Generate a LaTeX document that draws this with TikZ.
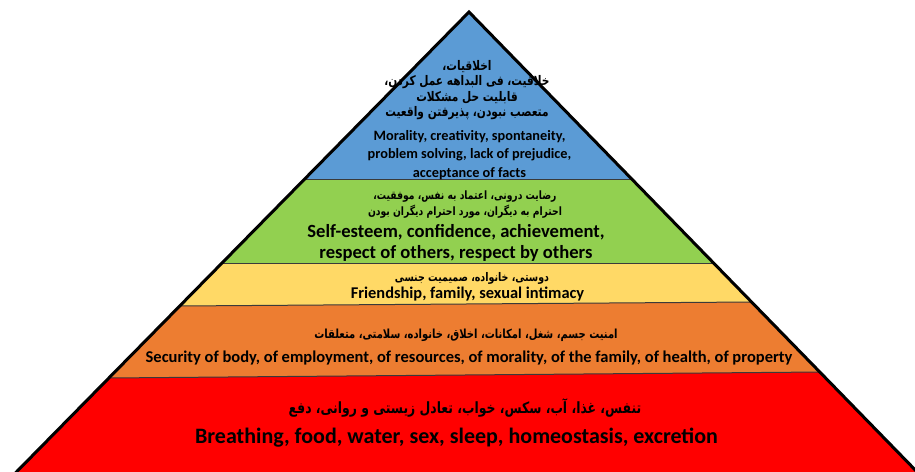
\documentclass[tikz,border=0pt]{standalone}
\usepackage{graphicx}
\usepackage{fontspec}
\setmainfont{Carlito}
\newfontfamily\arabicfont[Script=Arabic]{DejaVu Sans}
\TeXXeTstate=1
\newcommand\fatxt[1]{\scalebox{1}[1.25]{\beginR #1\endR}}
\definecolor{lblue}{HTML}{5B9BD5}
\definecolor{lgreen}{HTML}{92D050}
\definecolor{lyellow}{HTML}{FFD966}
\definecolor{lorange}{HTML}{ED7D31}
\definecolor{lred}{HTML}{FF0000}
\definecolor{divcol}{HTML}{3A3A3A}
\tikzset{
  divider/.style={draw=divcol, line width=1pt},
  outline/.style={draw=black, line width=3pt, line join=miter},
  en/.style={inner sep=0pt, align=center, text=black},
  fa/.style={inner sep=0pt, align=center, text=black},
}
\begin{document}
\begin{tikzpicture}[x=1pt,y=-1pt]
\useasboundingbox (0,0) rectangle (915,471);
\clip (0,0) rectangle (915,471);
\coordinate (apex) at (469,12);
\coordinate (l1) at (304.2,179.5);
\coordinate (r1) at (632.3,179.5);
\coordinate (l2) at (222.0,263);
\coordinate (r2) at (713.7,263);
\coordinate (l3) at (179.7,306);
\coordinate (r3) at (751.8,302);
\coordinate (l4) at (108.9,378);
\coordinate (r4) at (820.0,372);
\coordinate (bl) at (8.5,480);
\coordinate (br) at (925,480);
% bands
\fill[lblue] (apex) -- (l1) -- (r1) -- cycle;
\fill[lgreen] (l1) -- (l2) -- (r2) -- (r1) -- cycle;
\fill[lyellow] (l2) -- (l3) -- (r3) -- (r2) -- cycle;
\fill[lorange] (l3) -- (l4) -- (r4) -- (r3) -- cycle;
\fill[lred] (l4) -- (bl) -- (br) -- (r4) -- cycle;
% dividers
\draw[divider] (l1) -- (r1);
\draw[divider] (l2) -- (r2);
\draw[divider] (l3) -- (r3);
\draw[divider] (l4) -- (r4);
% outline
\draw[outline] (bl) -- (apex) -- (br);
% texts
\node[fa, font=\arabicfont\bfseries\fontsize{10.6}{15.3}\selectfont] (bluefa) at (467,90)
  {\fatxt{اخلاقیات،}\\ \fatxt{خلاقیت، فی البداهه عمل کردن،}\\ \fatxt{قابلیت حل مشکلات}\\ \fatxt{متعصب نبودن، پذیرفتن واقعیت}};
\node[en, font=\bfseries\fontsize{14.3}{18.5}\selectfont] (blueen) at (469.5,155)
  {Morality, creativity, spontaneity,\\ problem solving, lack of prejudice,\\ acceptance of facts};
\node[fa, font=\arabicfont\bfseries\fontsize{9.2}{16}\selectfont] (greenfa) at (465,205)
  {\fatxt{رضایت درونی، اعتماد به نفس، موفقیت،}\\ \fatxt{احترام به دیگران، مورد احترام دیگران بودن}};
\node[en, font=\bfseries\fontsize{18.6}{21}\selectfont] (greenen) at (456,242.5)
  {Self-esteem, confidence, achievement,\\ respect of others, respect by others};
\node[fa, font=\arabicfont\bfseries\fontsize{9.5}{12}\selectfont] (yellowfa) at (472,278.5)
  {\fatxt{دوستی، خانواده، صمیمیت جنسی}};
\node[en, font=\bfseries\fontsize{16.4}{18}\selectfont] (yellowen) at (467.5,294)
  {Friendship, family, sexual intimacy};
\node[fa, font=\arabicfont\bfseries\fontsize{10}{12}\selectfont] (orangefa) at (466,335)
  {\fatxt{امنیت جسم، شغل، امکانات، اخلاق، خانواده، سلامتی، متعلقات}};
\node[en, font=\bfseries\fontsize{16.5}{19}\selectfont] (orangeen) at (469,358)
  {Security of body, of employment, of resources, of morality, of the family, of health, of property};
\node[fa, font=\arabicfont\bfseries\fontsize{12.4}{15}\selectfont] (redfa) at (465,408)
  {\fatxt{تنفس، غذا، آب، سکس، خواب، تعادل زیستی و روانی، دفع}};
\node[en, font=\bfseries\fontsize{22}{25}\selectfont] (reden) at (456.5,438)
  {Breathing, food, water, sex, sleep, homeostasis, excretion};
\end{tikzpicture}
\end{document}
